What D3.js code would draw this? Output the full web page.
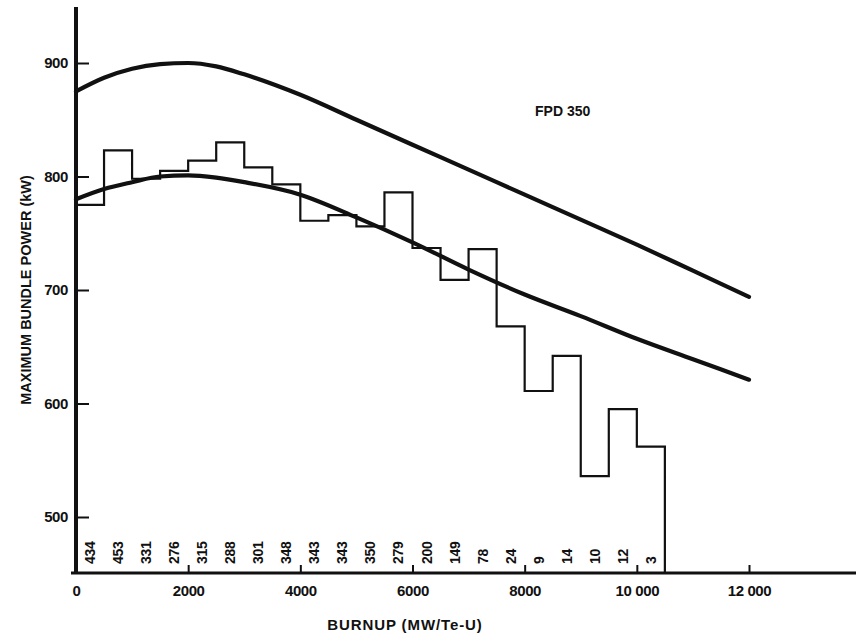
<!DOCTYPE html>
<html>
<head>
  <meta charset="utf-8">
  <title>Maximum bundle power vs burnup</title>
  <style>
    body { margin: 0; background: #fff; }
    svg text { font-family: 'Liberation Sans', Arial, Helvetica, sans-serif; font-weight: bold; fill: #111; }
  </style>
</head>
<body>
  <div id="chart"></div>
  <script src="https://d3js.org/d3.v7.min.js"></script>
  <script>
    // histogram bins, 500 MW/Te-U wide, starting at 0
    let binStarts = [0, 500, 1000, 1500, 2000, 2500, 3000, 3500, 4000, 4500, 5000,
      5500, 6000, 6500, 7000, 7500, 8000, 8500, 9000, 9500, 10000];
    let binPower = [775, 823, 798, 805, 814, 830, 808, 793, 761, 766, 756,
      786, 737, 709, 736, 668, 611, 642, 536, 595, 562];
    let binCounts = [434, 453, 331, 276, 315, 288, 301, 348, 343, 343, 350,
      279, 200, 149, 78, 24, 9, 14, 10, 12, 3];

    // the two smooth curves
    let curveBurnup = [0, 500, 1000, 1500, 2000, 2500, 3000, 4000, 5000, 6000, 7000, 8000, 9000, 10000, 11000, 12000];
    let upperPower = [875, 887, 895, 899, 900, 897, 890, 872, 850, 828, 806, 784, 762, 740, 717, 694];
    let lowerPower = [780, 789, 795, 800, 801, 799, 795, 784, 764, 742, 718, 696, 677, 657, 639, 621];

    let xTicks = [0, 2000, 4000, 6000, 8000, 10000, 12000];
    let yTicks = [500, 600, 700, 800, 900];

    let svgWidth = 856;
    let svgHeight = 641;

    let svg = d3.select('#chart').append('svg')
      .attr('width', svgWidth)
      .attr('height', svgHeight);

    let x = d3.scaleLinear().domain([0, 12000]).range([76, 749]);
    let y = d3.scaleLinear().domain([500, 900]).range([517, 63]);
    let axisY = 573;

    // x axis
    let fmt = d => d >= 10000 ? d3.format(',')(d).replace(',', ' ') : d;
    let xAxis = svg.append('g')
      .attr('transform', 'translate(0,' + axisY + ')')
      .call(d3.axisBottom(x).tickValues(xTicks).tickFormat(fmt).tickSize(-8).tickPadding(12));
    xAxis.select('.domain').remove();
    xAxis.selectAll('.tick line').attr('stroke', '#111').attr('stroke-width', 2);
    xAxis.selectAll('.tick').filter(d => d === 0).select('line').remove();
    xAxis.selectAll('text').style('font-size', '15px').style('letter-spacing', '-0.4px').attr('fill', '#111');

    // y axis
    let yAxis = svg.append('g')
      .attr('transform', 'translate(76,0)')
      .call(d3.axisLeft(y).tickValues(yTicks).tickSize(-13).tickPadding(8));
    yAxis.select('.domain').remove();
    yAxis.selectAll('.tick line').attr('stroke', '#111').attr('stroke-width', 2);
    yAxis.selectAll('text').style('font-size', '15px').style('letter-spacing', '-0.4px').attr('fill', '#111');

    svg.append('line')
      .attr('x1', 71).attr('x2', svgWidth)
      .attr('y1', axisY).attr('y2', axisY)
      .attr('stroke', '#111').attr('stroke-width', 3);
    svg.append('line')
      .attr('x1', 76).attr('x2', 76)
      .attr('y1', 7).attr('y2', axisY + 1)
      .attr('stroke', '#111').attr('stroke-width', 4);

    // histogram as a step line
    let stepPts = binStarts.map((b, i) => [b, binPower[i]]);
    stepPts.push([10500, binPower[binPower.length - 1]]);
    stepPts.push([10500, y.invert(axisY)]);
    let step = d3.line()
      .x(d => x(d[0]))
      .y(d => y(d[1]))
      .curve(d3.curveStepAfter);
    svg.append('path')
      .attr('d', step(stepPts))
      .attr('fill', 'none')
      .attr('stroke', '#111')
      .attr('stroke-width', 2.2);

    // smooth curves
    let smooth = d3.line()
      .x(d => x(d[0]))
      .y(d => y(d[1]))
      .curve(d3.curveMonotoneX);
    [upperPower, lowerPower].forEach(vals => {
      svg.append('path')
        .attr('d', smooth(curveBurnup.map((b, i) => [b, vals[i]])))
        .attr('fill', 'none')
        .attr('stroke', '#111')
        .attr('stroke-width', 4.2)
        .attr('stroke-linecap', 'round');
    });

    // bundle counts in each bin
    svg.selectAll('.count')
      .data(binCounts)
      .enter()
      .append('text')
      .attr('class', 'count')
      .attr('transform', (d, i) => 'translate(' + (x(binStarts[i] + 250) + 5) + ',564) rotate(-90)')
      .attr('text-anchor', 'start')
      .style('font-size', '14px')
      .style('letter-spacing', '-0.3px')
      .text(d => d);

    // labels
    svg.append('text')
      .attr('x', 535).attr('y', 116)
      .style('font-size', '14px')
      .text('FPD 350');

    svg.append('text')
      .attr('transform', 'translate(31,290) rotate(-90)')
      .attr('text-anchor', 'middle')
      .style('font-size', '14.5px')
      .text('MAXIMUM BUNDLE POWER (kW)');

    svg.append('text')
      .attr('x', 405).attr('y', 630)
      .attr('text-anchor', 'middle')
      .style('font-size', '15px')
      .style('letter-spacing', '0.9px')
      .text('BURNUP (MW/Te-U)');
  </script>
</body>
</html>
